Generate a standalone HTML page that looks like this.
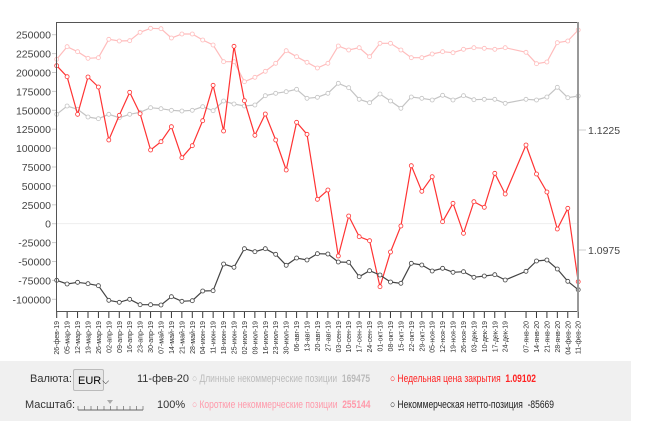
<!DOCTYPE html>
<html><head><meta charset="utf-8"><style>
body{margin:0;width:650px;height:421px;background:#fff;font-family:"Liberation Sans","DejaVu Sans",sans-serif;overflow:hidden;position:relative}
svg{position:absolute;left:0;top:0}
.panel{position:absolute;left:0;top:361px;width:631px;height:60px;background:#f0f0f0}
.t{position:absolute;font-size:11px;color:#333;white-space:nowrap}
.n{transform:scaleX(0.77);transform-origin:0 0}
</style></head><body>
<div class="panel"></div>
<svg id="s" width="650" height="421" xmlns="http://www.w3.org/2000/svg"></svg>
<div class="t" style="left:30px;top:373px">Валюта:</div>
<div style="position:absolute;left:73px;top:369px;width:31px;height:22px;border:1px solid #bbb;border-radius:2px;background:#e8e8e8;font-size:11px;line-height:22px;padding-left:4px;box-sizing:border-box">EUR<span style="font-size:9px;margin-left:1px">⌵</span></div>
<div class="t" style="left:137px;top:373px">11-фев-20</div>
<div class="t n" style="left:192px;top:373px;color:#bbb">○ Длинные некоммерческие позиции&nbsp; <b>169475</b></div>
<div class="t n" style="left:390px;top:373px;color:#f22">○ Недельная цена закрытия&nbsp; <b>1.09102</b></div>
<div class="t" style="left:25px;top:399px">Масштаб:</div>
<div class="t" style="left:157px;top:399px">100%</div>
<div class="t n" style="left:192px;top:399px;color:#f9a">○ Короткие некоммерческие позиции&nbsp; <b>255144</b></div>
<div class="t n" style="left:390px;top:399px;color:#222">○ Некоммерческая нетто-позиция&nbsp; -85669</div>
<script>
var s=document.getElementById('s'),h='';
function X(i){return 56.7+10.43*i}
h+='<line x1="57" y1="223.6" x2="578" y2="223.6" stroke="#eee"/>';
var labs=[250000,225000,200000,175000,150000,125000,100000,75000,50000,25000,0,-25000,-50000,-75000,-100000];
labs.forEach(function(v,k){var y=34.7+18.9*k;h+='<text x="51" y="'+(y+4)+'" font-size="10.5" fill="#444" text-anchor="end">'+v+'</text><line x1="52" y1="'+y+'" x2="56" y2="'+y+'" stroke="#ccc"/>';});
h+='<line x1="579" y1="130" x2="586" y2="130" stroke="#ccc"/><text x="588" y="134" font-size="10.5" fill="#444">1.1225</text>';
h+='<line x1="579" y1="250" x2="586" y2="250" stroke="#ccc"/><text x="588" y="254" font-size="10.5" fill="#444">1.0975</text>';
var pink=[59.3,46.7,51.7,58.3,57.7,39.3,41,40.7,32.3,28.3,28.7,38,34,34,40,45,61.7,61.7,81.7,77.3,71.3,63.3,50.7,56.7,62.3,68,63.3,46,50,47.7,56.7,43.3,43.3,50,57.7,57.7,54,51.7,52.7,49.3,47.7,48.3,49.3,47.7,null,52.3,63.7,62,42.7,41,30];
var gray=[114.3,106,109.3,117,118.7,114.3,117.7,114.3,112.3,107.7,108.7,110.3,111,110.3,106.7,110.7,101,104,106,105,95.7,93.3,91.7,89.3,98.3,97.3,93.3,83.3,87.7,99.3,102.7,94,101,108.3,97,98.3,100,95.3,100,95.7,99.7,99.3,99.3,103.3,null,99.3,100,97,87.3,97.7,96];
var red=[65.7,76.7,114.3,77,87,140,115.3,92.3,113.7,150,141.7,126.7,157.7,145.7,120.7,85.3,131,46.3,100.7,135.3,114,140,170,122.3,134.3,199.3,190,256,216,236.7,240.7,286.7,252,226,165.7,191.3,176.7,221.7,203.3,233.3,201.7,207.3,173.3,194,null,145,174,192,229,208.3,281.7];
var blk=[280.3,284,282.3,283.7,285.7,300.3,302.3,299.3,304.7,304.7,305,296.7,301.3,300.7,291,290.7,264,267.3,248.7,251.7,248.7,254.3,265.3,258,260,253.7,254,262,262.3,276.7,270.7,275,282,283.3,263.3,265,271,268.3,272.3,271.7,277.3,276,274.7,280,null,271.3,261,260,269,281.3,289.7];
function ser(a,c,w){var p=[],cs='';a.forEach(function(y,i){if(y==null)return;p.push(X(i).toFixed(1)+','+y);cs+='<circle cx="'+X(i).toFixed(1)+'" cy="'+y+'" r="2" fill="#fff" stroke="'+c+'" stroke-width="0.8"/>';});
h+='<polyline points="'+p.join(' ')+'" fill="none" stroke="'+c+'" stroke-width="'+w+'"/>'+cs;}
ser(pink,'#ffbcbc',1.2);ser(gray,'#c4c4c4',1.2);ser(red,'#f33',1.2);ser(blk,'#444',1.2);
h+='<rect x="56.5" y="22.5" width="521.5" height="289" fill="none" stroke="#555"/>';
h+='<line x1="578" y1="22" x2="578" y2="312" stroke="#999" stroke-width="2"/>';
var d=new Date(2019,1,26);
for(var i=0;i<=50;i++){var dt=new Date(d.getTime()+i*7*864e5);if(i==44)continue;
var x=X(i);h+='<line x1="'+x+'" y1="312" x2="'+x+'" y2="318" stroke="#333"/>';
var mn=['янв','фев','мар','апр','май','июн','июл','авг','сен','окт','ноя','дек'][dt.getMonth()];
var lab=('0'+dt.getDate()).slice(-2)+'-'+mn+'-'+String(dt.getFullYear()).slice(2);
h+='<text transform="translate('+(x+2.5)+',321) rotate(-90)" font-size="7" fill="#333" text-anchor="end">'+lab+'</text>';}
h+='<line x1="78" y1="410" x2="143" y2="410" stroke="#666"/>';
for(var k=0;k<=10;k++){var sx=78+6.5*k;h+='<line x1="'+sx+'" y1="406" x2="'+sx+'" y2="410" stroke="#666" stroke-width="0.7"/>';}
h+='<path d="M107 400 L113 400 L110 404Z" fill="#aaa"/>';
s.innerHTML=h;
</script>
</body></html>
